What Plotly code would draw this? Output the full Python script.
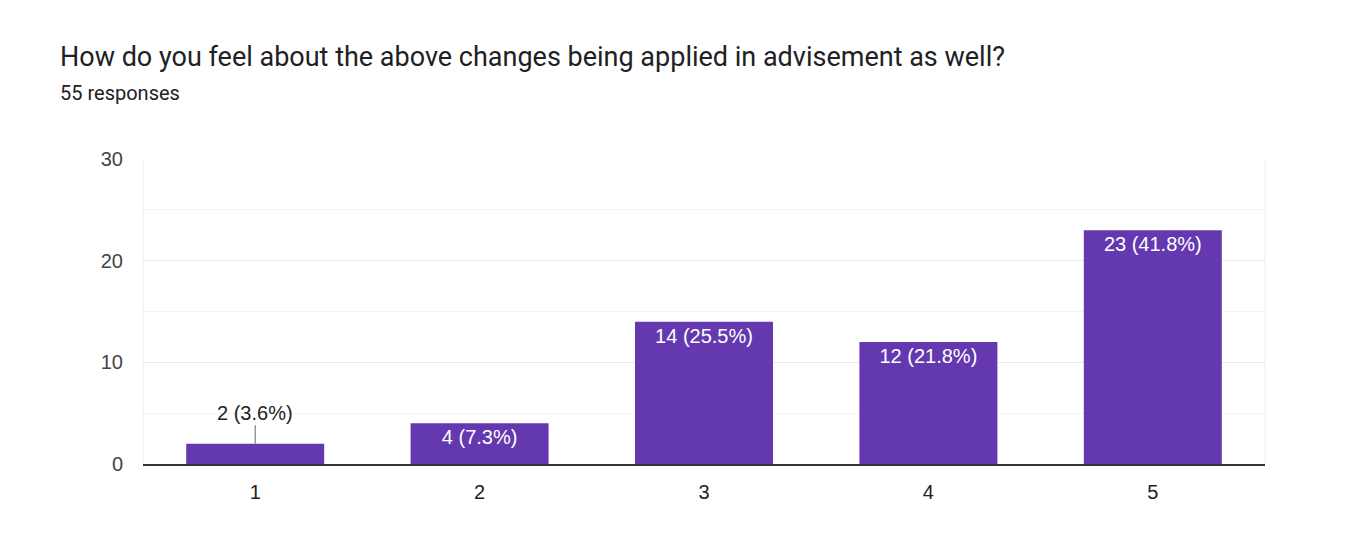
import plotly.graph_objects as go

categories = ["1", "2", "3", "4", "5"]
counts = [2, 4, 14, 12, 23]
total_responses = 55
title_text = "How do you feel about the above changes being applied in advisement as well?"
subtitle_text = "55 responses"

OFF = 8  # page body margin
W, H = 1346 - OFF, 538 - OFF
L, R, T, B = 143 - OFF, 81, 159 - OFF, 74
PW, PH = W - L - R, H - T - B

labels = [f"{c} ({c / total_responses * 100:.1f}%)" for c in counts]
inside_text = ["" if c < 3 else lab for c, lab in zip(counts, labels)]

bar_color = "#6439b0"
label_font = "Liberation Sans, Arial"

fig = go.Figure()
fig.add_trace(go.Bar(
    x=categories, y=counts,
    marker=dict(color=bar_color, line=dict(width=0)),
    text=inside_text,
    textposition="inside",
    insidetextanchor="end",
    textangle=0,
    insidetextfont=dict(family=label_font, size=20, color="white"),
    hoverinfo="skip",
))


def px_x(px):
    return (px - OFF - L) / PW


def px_y(py):
    return (H - B - (py - OFF)) / PH


annotations = [
    dict(text=title_text, xref="paper", yref="paper", x=px_x(58), y=px_y(57),
         xanchor="left", yanchor="middle", showarrow=False,
         font=dict(family="Roboto", size=27, color="#202124")),
    dict(text=subtitle_text, xref="paper", yref="paper", x=px_x(58), y=px_y(93),
         xanchor="left", yanchor="middle", showarrow=False,
         font=dict(family="Roboto", size=20, color="#202124")),
]
for i, (c, lab) in enumerate(zip(counts, labels)):
    if c < 3:
        annotations.append(dict(
            text=lab, x=i, y=c, xref="x", yref="y",
            showarrow=True, arrowhead=0, arrowwidth=1, arrowcolor="#666",
            ax=0, ay=-31, standoff=0,
            font=dict(family=label_font, size=20, color="#222"),
        ))

shapes = [
    dict(type="line", xref="paper", yref="paper", x0=0, x1=0, y0=0, y1=1,
         line=dict(color="#eeeeee", width=1)),
    dict(type="line", xref="paper", yref="paper", x0=1, x1=1, y0=0, y1=1,
         line=dict(color="#eeeeee", width=1)),
]

fig.update_layout(
    width=W, height=H,
    margin=dict(l=L, r=R, t=T, b=B, pad=0),
    paper_bgcolor="white", plot_bgcolor="white",
    showlegend=False,
    bargap=0.385,
    annotations=annotations,
    shapes=shapes,
    xaxis=dict(
        type="category",
        showgrid=False, showline=True, linecolor="#333333", linewidth=1.5,
        ticks="", tickfont=dict(family=label_font, size=20, color="#222"),
        ticklabelstandoff=9,
    ),
    yaxis=dict(
        range=[0, 30], dtick=10, tick0=0,
        showgrid=True, gridcolor="#ebebeb", gridwidth=1,
        minor=dict(dtick=5, showgrid=True, gridcolor="#f3f3f3", gridwidth=1),
        zeroline=False, showline=False, ticks="",
        tickfont=dict(family=label_font, size=20, color="#444"),
        ticklabelstandoff=19,
    ),
)

fig.write_html("out.html")
